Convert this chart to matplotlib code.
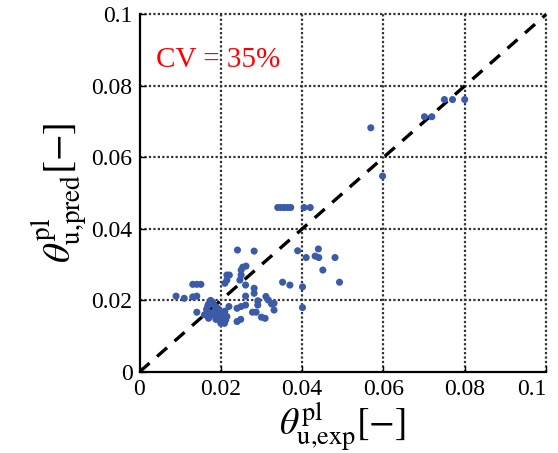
import numpy as np
import matplotlib
matplotlib.use("Agg")
import matplotlib.pyplot as plt

plt.rcParams['mathtext.fontset'] = 'stix'

# data
x_exp = [0.0569, 0.0598, 0.0701, 0.0719, 0.0750, 0.0770, 0.0800,
         0.0340, 0.0348, 0.0356, 0.0364, 0.0372, 0.0405, 0.0420,
         0.0241, 0.0282, 0.0389, 0.0410, 0.0432, 0.0441, 0.0440, 0.0481, 0.0451, 0.0492,
         0.0352, 0.0370, 0.0401, 0.0401,
         0.0331, 0.0331, 0.0311, 0.0317, 0.0325, 0.0309, 0.0300, 0.0291, 0.0291,
         0.0282, 0.0282, 0.0287, 0.0278, 0.0261, 0.0261, 0.0261, 0.0250, 0.0240,
         0.0240, 0.0249, 0.0220, 0.0250, 0.0254, 0.0262, 0.0250, 0.0247,
         0.0215, 0.0215, 0.0210, 0.0221,
         0.0131, 0.0141, 0.0151, 0.0090, 0.0110, 0.0131, 0.0141, 0.0141,
         0.0165, 0.0170, 0.0175, 0.0180, 0.0185, 0.0190, 0.0175, 0.0180, 0.0185,
         0.0190, 0.0195, 0.0200, 0.0205, 0.0210, 0.0198, 0.0212, 0.0200, 0.0209,
         0.0170, 0.0160, 0.0188, 0.0215, 0.0195, 0.0168, 0.0172]
y_pred = [0.0683, 0.0548, 0.0714, 0.0714, 0.0762, 0.0762, 0.0762,
          0.0460, 0.0460, 0.0460, 0.0460, 0.0460, 0.0460, 0.0460,
          0.0341, 0.0338, 0.0339, 0.0320, 0.0324, 0.0320, 0.0344, 0.0320, 0.0285, 0.0251,
          0.0251, 0.0243, 0.0238, 0.0180,
          0.0192, 0.0173, 0.0211, 0.0201, 0.0190, 0.0150, 0.0153, 0.0199, 0.0187,
          0.0234, 0.0220, 0.0167, 0.0167, 0.0243, 0.0212, 0.0187, 0.0183, 0.0178,
          0.0141, 0.0147, 0.0183, 0.0285, 0.0293, 0.0296, 0.0271, 0.0257,
          0.0271, 0.0257, 0.0248, 0.0271,
          0.0245, 0.0245, 0.0245, 0.0212, 0.0206, 0.0210, 0.0212, 0.0167,
          0.0175, 0.0190, 0.0200, 0.0195, 0.0185, 0.0180, 0.0165, 0.0160, 0.0170,
          0.0155, 0.0165, 0.0150, 0.0160, 0.0170, 0.0145, 0.0145, 0.0136, 0.0136,
          0.0150, 0.0160, 0.0147, 0.0155, 0.0175, 0.0185, 0.0155]
ticks = [0, 0.02, 0.04, 0.06, 0.08, 0.1]
tick_labels = ['0', '0.02', '0.04', '0.06', '0.08', '0.1']

fig = plt.figure(figsize=(5.58, 4.53), dpi=100)
ax = fig.add_axes([0.25, 0.179, 0.7285, 0.789])

ax.set_xlim(0, 0.1)
ax.set_ylim(0, 0.1)
ax.set_xticks(ticks)
ax.set_yticks(ticks)
ax.set_xticklabels(tick_labels, fontfamily='Liberation Serif', fontsize=17)
ax.set_yticklabels(tick_labels, fontfamily='Liberation Serif', fontsize=17)
ax.get_xticklabels()[-1].set_ha('right')
ax.tick_params(direction='in', length=4, width=1, pad=5)

# grid, including the outer frame lines at 0.1
for t in ticks[1:]:
    ax.axvline(t, color='#333333', ls=(0, (1.0, 1.0)), lw=1.6, zorder=1, clip_on=False)
    ax.axhline(t, color='#333333', ls=(0, (1.0, 1.0)), lw=1.6, zorder=1, clip_on=False)
ax.spines['top'].set_visible(False)
ax.spines['right'].set_visible(False)
ax.spines['left'].set_linewidth(1.6)
ax.spines['bottom'].set_linewidth(1.6)

ax.plot([0, 0.1], [0, 0.1], color='black', ls=(0, (4, 3)), lw=2.4, zorder=2)
ax.scatter(x_exp, y_pred, s=26, color='#3B5BA9', zorder=3, edgecolors='none')

ax.text(0.004, 0.0872, 'CV = 35%', color='red', fontsize=21,
        fontfamily='Liberation Serif', va='center', ha='left')

ax.set_xlabel(r'$\theta^{\mathrm{pl}}_{\mathrm{u{,}exp}}[-]$', fontsize=27, labelpad=1)
ax.set_ylabel(r'$\theta^{\mathrm{pl}}_{\mathrm{u{,}pred}}[-]$', fontsize=28, labelpad=2)

fig.savefig('out.png', dpi=100)
